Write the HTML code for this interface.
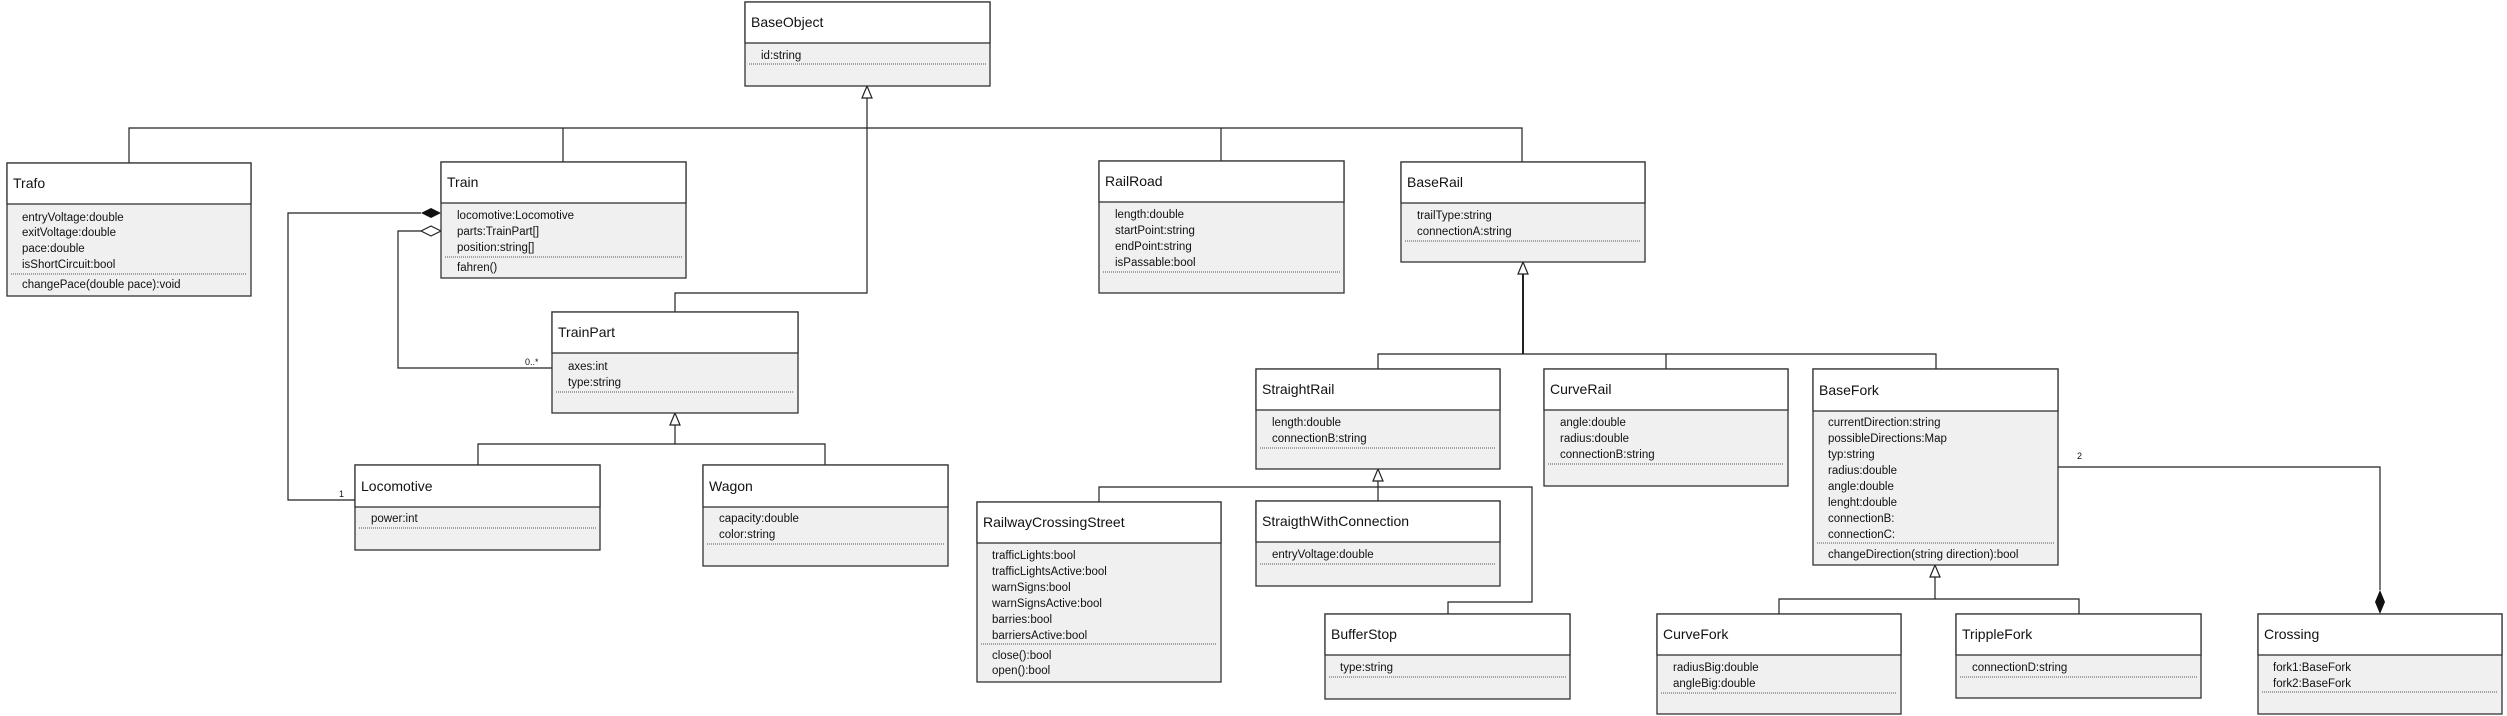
<!DOCTYPE html>
<html><head><meta charset="utf-8"><style>
html,body{margin:0;padding:0;background:#fff;}
svg{display:block;}
text{font-family:"Liberation Sans Narrow","Liberation Sans",sans-serif;fill:#111;}
.t{font-size:14px;}
.a{font-size:11.5px;}
.b{fill:#f0f0f0;stroke:#333;stroke-width:1.3;}
.h{fill:#fff;stroke:#333;stroke-width:1.3;}
.d{stroke:#555;stroke-width:1;stroke-dasharray:1,1;}
.l{stroke:#222;stroke-width:1.2;fill:none;}
.m{font-size:9px;}
</style></head><body>
<svg width="2507" height="716" viewBox="0 0 2507 716" xmlns="http://www.w3.org/2000/svg">
<!-- connectors -->
<g class="l">
<polyline points="129,163 129,128 1522,128 1522,162"/>
<line x1="563" y1="128" x2="563" y2="162"/>
<line x1="1221" y1="128" x2="1221" y2="161"/>
<polyline points="867,98 867,293 675,293 675,312"/>
<line x1="1523" y1="274" x2="1523" y2="354" style="stroke-width:2"/>
<polyline points="1378,369 1378,354 1936,354 1936,369"/>
<line x1="1666" y1="354" x2="1666" y2="369"/>
<line x1="1378" y1="481" x2="1378" y2="501"/>
<polyline points="1099,502 1099,487 1532,487 1532,602 1448,602 1448,614"/>
<line x1="675" y1="425" x2="675" y2="444"/>
<polyline points="478,465 478,444 825,444 825,465"/>
<line x1="1935" y1="577" x2="1935" y2="599"/>
<polyline points="1779,614 1779,599 2079,599 2079,614"/>
<polyline points="421,213 288,213 288,500 355,500"/>
<polyline points="421,231 398,231 398,368 552,368"/>
<polyline points="2058,467 2380,467 2380,590"/>
</g>
<!-- arrowheads -->
<g style="fill:#fff;stroke:#222;stroke-width:1.2">
<polygon points="867,86 862,98 872,98"/>
<polygon points="1523,262 1518,274 1528,274"/>
<polygon points="1378,469 1373,481 1383,481"/>
<polygon points="675,413 670,425 680,425"/>
<polygon points="1935,565 1930,577 1940,577"/>
<polygon points="441,231 431,226 421,231 431,236"/>
</g>
<polygon points="441,213 431,208 421,213 431,218" fill="#111"/>
<polygon points="2380,590 2375,602 2380,614 2385,602" fill="#111"/>
<text class="m" x="339" y="497">1</text>
<text class="m" x="525" y="365">0..*</text>
<text class="m" x="2077" y="459">2</text>

<!-- BaseObject -->
<rect class="b" x="745" y="2" width="245" height="84"/><rect class="h" x="745" y="2" width="245" height="41"/>
<text class="t" x="751" y="27">BaseObject</text>
<text class="a" x="761" y="59">id:string</text>
<line class="d" x1="749" y1="64" x2="986" y2="64"/>

<!-- Trafo -->
<rect class="b" x="7" y="163" width="244" height="133"/><rect class="h" x="7" y="163" width="244" height="41"/>
<text class="t" x="13" y="188">Trafo</text>
<text class="a" x="22" y="221">entryVoltage:double</text>
<text class="a" x="22" y="236">exitVoltage:double</text>
<text class="a" x="22" y="252">pace:double</text>
<text class="a" x="22" y="268">isShortCircuit:bool</text>
<line class="d" x1="11" y1="274" x2="247" y2="274"/>
<text class="a" x="22" y="288">changePace(double pace):void</text>

<!-- Train -->
<rect class="b" x="441" y="162" width="245" height="116"/><rect class="h" x="441" y="162" width="245" height="41"/>
<text class="t" x="447" y="187">Train</text>
<text class="a" x="457" y="219">locomotive:Locomotive</text>
<text class="a" x="457" y="235">parts:TrainPart[]</text>
<text class="a" x="457" y="251">position:string[]</text>
<line class="d" x1="445" y1="257" x2="682" y2="257"/>
<text class="a" x="457" y="271">fahren()</text>

<!-- TrainPart -->
<rect class="b" x="552" y="312" width="246" height="101"/><rect class="h" x="552" y="312" width="246" height="41"/>
<text class="t" x="558" y="337">TrainPart</text>
<text class="a" x="568" y="370">axes:int</text>
<text class="a" x="568" y="386">type:string</text>
<line class="d" x1="556" y1="392" x2="794" y2="392"/>

<!-- Locomotive -->
<rect class="b" x="355" y="465" width="245" height="85"/><rect class="h" x="355" y="465" width="245" height="42"/>
<text class="t" x="361" y="491">Locomotive</text>
<text class="a" x="371" y="522">power:int</text>
<line class="d" x1="359" y1="528" x2="596" y2="528"/>

<!-- Wagon -->
<rect class="b" x="703" y="465" width="245" height="101"/><rect class="h" x="703" y="465" width="245" height="42"/>
<text class="t" x="709" y="491">Wagon</text>
<text class="a" x="719" y="522">capacity:double</text>
<text class="a" x="719" y="538">color:string</text>
<line class="d" x1="707" y1="544" x2="944" y2="544"/>

<!-- RailRoad -->
<rect class="b" x="1099" y="161" width="245" height="132"/><rect class="h" x="1099" y="161" width="245" height="41"/>
<text class="t" x="1105" y="186">RailRoad</text>
<text class="a" x="1115" y="218">length:double</text>
<text class="a" x="1115" y="234">startPoint:string</text>
<text class="a" x="1115" y="250">endPoint:string</text>
<text class="a" x="1115" y="266">isPassable:bool</text>
<line class="d" x1="1103" y1="272" x2="1340" y2="272"/>

<!-- BaseRail -->
<rect class="b" x="1401" y="162" width="244" height="100"/><rect class="h" x="1401" y="162" width="244" height="41"/>
<text class="t" x="1407" y="187">BaseRail</text>
<text class="a" x="1417" y="219">trailType:string</text>
<text class="a" x="1417" y="235">connectionA:string</text>
<line class="d" x1="1405" y1="241" x2="1641" y2="241"/>

<!-- StraightRail -->
<rect class="b" x="1256" y="369" width="244" height="100"/><rect class="h" x="1256" y="369" width="244" height="41"/>
<text class="t" x="1262" y="394">StraightRail</text>
<text class="a" x="1272" y="426">length:double</text>
<text class="a" x="1272" y="442">connectionB:string</text>
<line class="d" x1="1260" y1="448" x2="1496" y2="448"/>

<!-- CurveRail -->
<rect class="b" x="1544" y="369" width="244" height="117"/><rect class="h" x="1544" y="369" width="244" height="41"/>
<text class="t" x="1550" y="394">CurveRail</text>
<text class="a" x="1560" y="426">angle:double</text>
<text class="a" x="1560" y="442">radius:double</text>
<text class="a" x="1560" y="458">connectionB:string</text>
<line class="d" x1="1548" y1="464" x2="1784" y2="464"/>

<!-- BaseFork -->
<rect class="b" x="1813" y="369" width="245" height="196"/><rect class="h" x="1813" y="369" width="245" height="42"/>
<text class="t" x="1819" y="395">BaseFork</text>
<text class="a" x="1828" y="426">currentDirection:string</text>
<text class="a" x="1828" y="442">possibleDirections:Map</text>
<text class="a" x="1828" y="458">typ:string</text>
<text class="a" x="1828" y="474">radius:double</text>
<text class="a" x="1828" y="490">angle:double</text>
<text class="a" x="1828" y="506">lenght:double</text>
<text class="a" x="1828" y="522">connectionB:</text>
<text class="a" x="1828" y="538">connectionC:</text>
<line class="d" x1="1817" y1="543" x2="2054" y2="543"/>
<text class="a" x="1828" y="558">changeDirection(string direction):bool</text>

<!-- RailwayCrossingStreet -->
<rect class="b" x="977" y="502" width="244" height="180"/><rect class="h" x="977" y="502" width="244" height="41"/>
<text class="t" x="983" y="527">RailwayCrossingStreet</text>
<text class="a" x="992" y="559">trafficLights:bool</text>
<text class="a" x="992" y="575">trafficLightsActive:bool</text>
<text class="a" x="992" y="591">warnSigns:bool</text>
<text class="a" x="992" y="607">warnSignsActive:bool</text>
<text class="a" x="992" y="623">barries:bool</text>
<text class="a" x="992" y="639">barriersActive:bool</text>
<line class="d" x1="981" y1="644" x2="1217" y2="644"/>
<text class="a" x="992" y="659">close():bool</text>
<text class="a" x="992" y="674">open():bool</text>

<!-- StraigthWithConnection -->
<rect class="b" x="1256" y="501" width="244" height="85"/><rect class="h" x="1256" y="501" width="244" height="41"/>
<text class="t" x="1262" y="526">StraigthWithConnection</text>
<text class="a" x="1272" y="558">entryVoltage:double</text>
<line class="d" x1="1260" y1="564" x2="1496" y2="564"/>

<!-- BufferStop -->
<rect class="b" x="1325" y="614" width="245" height="85"/><rect class="h" x="1325" y="614" width="245" height="41"/>
<text class="t" x="1331" y="639">BufferStop</text>
<text class="a" x="1340" y="671">type:string</text>
<line class="d" x1="1329" y1="677" x2="1566" y2="677"/>

<!-- CurveFork -->
<rect class="b" x="1657" y="614" width="244" height="100"/><rect class="h" x="1657" y="614" width="244" height="41"/>
<text class="t" x="1663" y="639">CurveFork</text>
<text class="a" x="1673" y="671">radiusBig:double</text>
<text class="a" x="1673" y="687">angleBig:double</text>
<line class="d" x1="1661" y1="693" x2="1897" y2="693"/>

<!-- TrippleFork -->
<rect class="b" x="1956" y="614" width="245" height="84"/><rect class="h" x="1956" y="614" width="245" height="41"/>
<text class="t" x="1962" y="639">TrippleFork</text>
<text class="a" x="1972" y="671">connectionD:string</text>
<line class="d" x1="1960" y1="677" x2="2197" y2="677"/>

<!-- Crossing -->
<rect class="b" x="2258" y="614" width="244" height="100"/><rect class="h" x="2258" y="614" width="244" height="41"/>
<text class="t" x="2264" y="639">Crossing</text>
<text class="a" x="2273" y="671">fork1:BaseFork</text>
<text class="a" x="2273" y="687">fork2:BaseFork</text>
<line class="d" x1="2262" y1="692" x2="2498" y2="692"/>
</svg>
</body></html>
